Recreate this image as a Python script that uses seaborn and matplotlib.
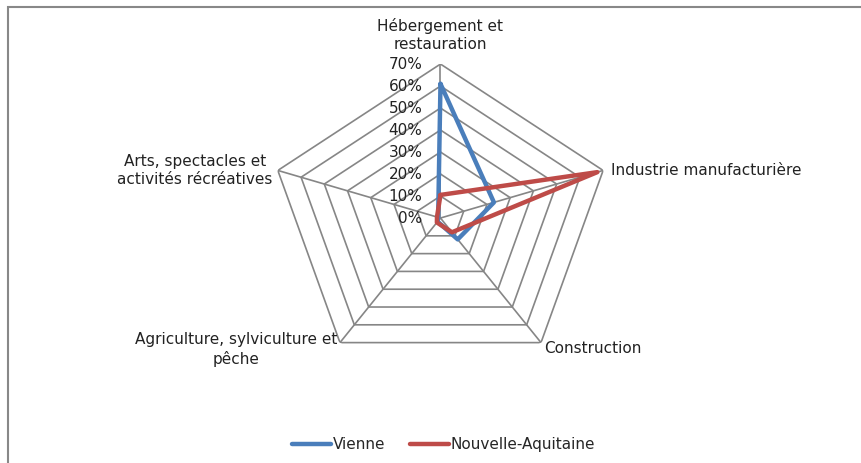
import numpy as np
import pandas as pd
import seaborn as sns
import matplotlib.pyplot as plt
from matplotlib.lines import Line2D
from matplotlib.patches import Rectangle

sns.set_theme(style="white")
plt.rcParams['font.family'] = ['DejaVu Sans']

categories = ["Hébergement et\nrestauration", "Industrie manufacturière", "Construction",
              "Agriculture, sylviculture et\npêche", "Arts, spectacles et\nactivités récréatives"]
vienne = [61, 23, 12, 2, 1]
nouvelle_aquitaine = [10.5, 67.5, 8, 2.5, 1.5]
ticks = [0, 10, 20, 30, 40, 50, 60, 70]
series_names = ["Vienne", "Nouvelle-Aquitaine"]
colors = ["#4A7EBB", "#BE4B48"]

n = len(categories)
angles = np.linspace(0, 2 * np.pi, n, endpoint=False)
closed = np.append(angles, angles[0])

rows = []
for name, vals in zip(series_names, [vienne, nouvelle_aquitaine]):
    for i, (a, v) in enumerate(zip(closed, vals + vals[:1])):
        rows.append({"theta": a, "value": v, "serie": name, "order": i})
df = pd.DataFrame(rows)

fig = plt.figure(figsize=(8.62, 4.63), dpi=100)
ax = fig.add_axes([0.3126, 0.1965, 0.3968, 0.6652], projection="polar")
ax.set_theta_offset(np.pi / 2)
ax.set_theta_direction(-1)
ax.set_aspect("auto")
ax.set_ylim(0, 70)
ax.grid(False)
ax.spines["polar"].set_visible(False)
ax.set_xticks([])
ax.set_yticks([])
ax.set_facecolor("none")

# pentagon grid
for t in ticks[1:]:
    ax.plot(closed, [t] * len(closed), color="#868686", lw=1.2, zorder=1)
for a in angles:
    ax.plot([a, a], [0, ticks[-1]], color="#868686", lw=1.2, zorder=1)

sns.lineplot(data=df, x="theta", y="value", hue="serie", palette=colors, sort=False,
             estimator=None, units="serie", lw=3.2, ax=ax, legend=False, zorder=3)
ax.set_xlabel("")
ax.set_ylabel("")

for t in ticks:
    ax.annotate(f"{t}%", xy=(0, t), xytext=(-18, 0), textcoords="offset pixels",
                ha="right", va="center", fontsize=11, color="#222222")

offsets = [((0, 12), "center", "bottom"), ((8, 0), "left", "center"),
           ((3, -6), "left", "center"), ((-3, -7), "right", "center"),
           ((-5, 0), "right", "center")]
for a, lab, (off, ha, va) in zip(angles, categories, offsets):
    ax.annotate(lab, xy=(a, 70), xytext=off, textcoords="offset pixels",
                ha=ha, va=va, multialignment="center", fontsize=11,
                color="#222222", linespacing=1.25)

handles = [Line2D([], [], color=c, lw=3.2) for c in colors]
fig.legend(handles, series_names, loc="center", bbox_to_anchor=(0.5145, 0.04), ncol=2,
           frameon=False, fontsize=11, handlelength=2.6, handletextpad=0.1,
           columnspacing=1.6)

fig.add_artist(Rectangle((8 / 862, -0.1), 1.2, 1.1 - 7 / 463, transform=fig.transFigure,
                         fill=False, edgecolor="#888888", lw=1.5))

fig.savefig("out.png", dpi=100)
